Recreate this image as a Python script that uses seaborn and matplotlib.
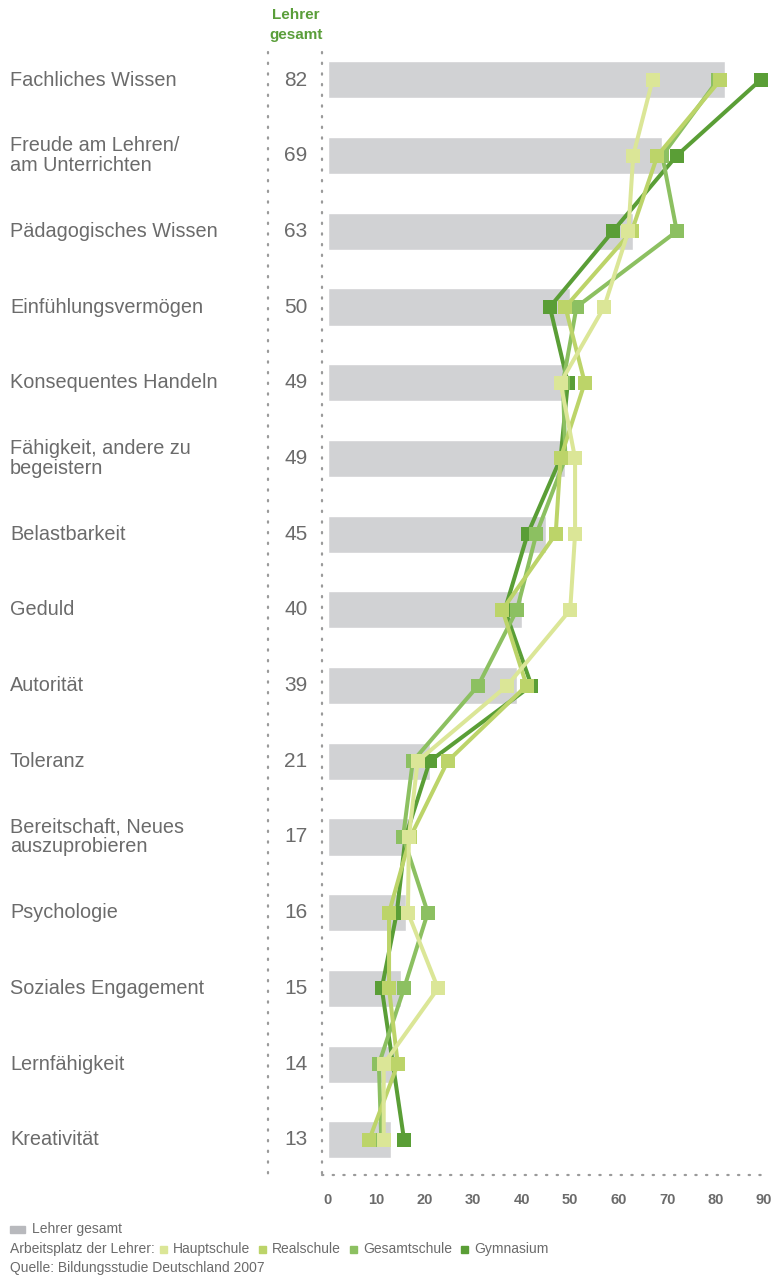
import pandas as pd
import matplotlib
matplotlib.use("Agg")
import matplotlib.pyplot as plt
from matplotlib import font_manager
from matplotlib.lines import Line2D
from matplotlib.patches import Rectangle
import seaborn as sns

# ==========================================
# Daten
# ==========================================
KATEGORIEN = [
    "Fachliches Wissen",
    "Freude am Lehren/\nam Unterrichten",
    "Pädagogisches Wissen",
    "Einfühlungsvermögen",
    "Konsequentes Handeln",
    "Fähigkeit, andere zu\nbegeistern",
    "Belastbarkeit",
    "Geduld",
    "Autorität",
    "Toleranz",
    "Bereitschaft, Neues\nauszuprobieren",
    "Psychologie",
    "Soziales Engagement",
    "Lernfähigkeit",
    "Kreativität",
]
LEHRER_GESAMT = [82, 69, 63, 50, 49, 49, 45, 40, 39, 21, 17, 16, 15, 14, 13]
HAUPTSCHULE = [67, 63, 62, 57, 48, 51, 51, 50, 37, 18.5, 16.7, 16.5, 22.7, 11.5, 11.5]
REALSCHULE = [81, 68, 62.7, 49, 53, 48, 47, 36, 41, 24.7, 17, 12.6, 12.6, 14.4, 8.5]
GESAMTSCHULE = [80.5, 69, 72, 51.3, 48.5, 49, 43, 39, 31, 17.5, 15.5, 20.6, 15.7, 10.5, 11]
GYMNASIUM = [89.3, 72, 58.8, 45.8, 49.5, 48, 41.2, 36.5, 42, 21, 16, 14.2, 11.1, 13.4, 15.7]
X_TICKS = [0, 10, 20, 30, 40, 50, 60, 70, 80, 90]

SCHULEN = ["Hauptschule", "Realschule", "Gesamtschule", "Gymnasium"]
FARBEN = {
    "Hauptschule": "#dbe697",
    "Realschule": "#bcd469",
    "Gesamtschule": "#8cc061",
    "Gymnasium": "#5a9e36",
}
BALKEN_FARBE = "#d1d2d4"
TEXT_GRAU = "#6b6b6b"
GRUEN_TITEL = "#5a9e3a"

# ==========================================
# Aufbau der DataFrames
# ==========================================
df_bar = pd.DataFrame({"Kategorie": KATEGORIEN, "Wert": LEHRER_GESAMT})
df_lines = pd.DataFrame({
    "pos": list(range(len(KATEGORIEN))) * 4,
    "Schule": sum([[s] * len(KATEGORIEN) for s in SCHULEN], []),
    "Wert": HAUPTSCHULE + REALSCHULE + GESAMTSCHULE + GYMNASIUM,
})

sns.set_style("white")
plt.rcParams["font.family"] = ["Liberation Sans", "DejaVu Sans"]

installed = {f.name for f in font_manager.fontManager.ttflist}
narrow = "Liberation Sans Narrow" in installed

W, H = 778, 1279
fig = plt.figure(figsize=(W / 100, H / 100), dpi=100)

def px(x, y):
    # Pixelkoordinaten (oben links) -> Figure-Koordinaten
    return x / W, 1 - y / H

# Hauptachse: x=0 bei 328 px, x=90 bei 764 px; Zeilen von 42 bis 1175 px
ax = fig.add_axes([328 / W, 1 - 1175 / H, (764 - 328) / W, (1175 - 42) / H])

sns.barplot(data=df_bar, y="Kategorie", x="Wert", color=BALKEN_FARBE,
            width=0.49, saturation=1, ax=ax)

# Zeichenreihenfolge: Gymnasium unten, Hauptschule oben
sns.lineplot(data=df_lines, x="Wert", y="pos", hue="Schule",
             hue_order=["Gymnasium", "Gesamtschule", "Realschule", "Hauptschule"],
             palette=FARBEN, sort=False, estimator=None, marker="s",
             markersize=10.5, markeredgewidth=0, linewidth=2.9,
             legend=False, ax=ax)
for ln in ax.lines:
    ln.set_clip_on(False)

ax.set_xlim(0, 90)
row_h = (1175 - 80) / 75.7
ax.set_ylim(row_h, -0.5)
ax.set_xticks(X_TICKS)
ax.set_xticklabels([str(t) for t in X_TICKS], fontsize=10.5, fontweight="bold",
                   color=TEXT_GRAU)
ax.tick_params(axis="x", length=0, pad=13)
ax.set_yticks([])
ax.set_xlabel("")
ax.set_ylabel("")
for sp in ax.spines.values():
    sp.set_visible(False)
ax.patch.set_alpha(0)

# Kategorien und Werte "Lehrer gesamt"
for i, (kat, val) in enumerate(zip(KATEGORIEN, LEHRER_GESAMT)):
    y = 80 + i * 75.7
    fig.text(*px(10, y), kat, fontsize=14.3, color=TEXT_GRAU, ha="left",
             va="center", linespacing=1.05)
    fig.text(*px(296, y), str(val), fontsize=15, color=TEXT_GRAU,
             ha="center", va="center")

# Kopfzeile
fig.text(*px(296, 15), "Lehrer", fontsize=11, fontweight="bold",
         color=GRUEN_TITEL, ha="center", va="center")
fig.text(*px(296, 35), "gesamt", fontsize=11, fontweight="bold",
         color=GRUEN_TITEL, ha="center", va="center")

# Punktierte Hilfslinien
dot_style = dict(color="#9a9a9a", linewidth=1.6, linestyle=(0, (0.6, 4.2)),
                 dash_capstyle="round", transform=fig.transFigure)
for xv in (268, 322):
    x0, y0 = px(xv, 52)
    x1, y1 = px(xv, 1175)
    fig.add_artist(Line2D([x0, x1], [y0, y1], **dot_style))
x0, y0 = px(322, 1175)
x1, y1 = px(766, 1175)
fig.add_artist(Line2D([x0, x1], [y0, y1], **dot_style))

# Legende / Quelle
leg_family = (["Liberation Sans Narrow"] if narrow else []) + ["Liberation Sans", "DejaVu Sans"]
leg_font = dict(fontsize=11.5 if narrow else 10, color=TEXT_GRAU, va="center",
                ha="left", family=leg_family)
rx, ry = px(10, 1233)
fig.add_artist(Rectangle((rx, ry), 15 / W, 7 / H, color="#b8b9bd",
                         transform=fig.transFigure))
fig.text(*px(32, 1229), "Lehrer gesamt", **leg_font)

renderer = fig.canvas.get_renderer()
t = fig.text(*px(10, 1249), "Arbeitsplatz der Lehrer:", **leg_font)
cur = t.get_window_extent(renderer).x1  # Pixel von links
for schule in SCHULEN:
    sx = cur + 5
    qx, qy = px(sx, 1253)
    fig.add_artist(Rectangle((qx, qy), 7 / W, 7 / H, color=FARBEN[schule],
                             transform=fig.transFigure))
    t = fig.text(*px(sx + 13, 1249), schule, **leg_font)
    cur = t.get_window_extent(renderer).x1 + 4
fig.text(*px(10, 1268), "Quelle: Bildungsstudie Deutschland 2007", **leg_font)

fig.savefig("out.png", dpi=100)
